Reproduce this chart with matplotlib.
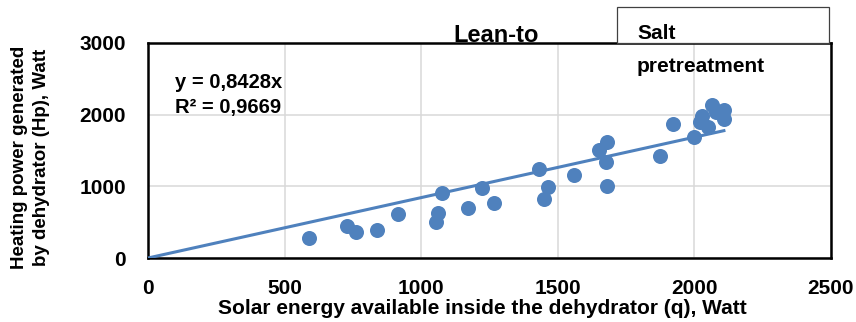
import numpy as np
import matplotlib.pyplot as plt
from matplotlib.patches import Rectangle

# solar energy inside dehydrator (q) vs heating power (Hp), Watt
solar_q = [589, 729, 761, 838, 914, 1054, 1063, 1075, 1172, 1221, 1266,
           1432, 1449, 1465, 1560, 1651, 1676, 1681, 1681, 1875, 1920,
           1997, 2020, 2027, 2051, 2066, 2080, 2108, 2108]
heat_hp = [275, 446, 360, 390, 614, 507, 623, 902, 693, 971, 763,
           1237, 823, 986, 1162, 1507, 1335, 1618, 1004, 1423, 1869,
           1692, 1901, 1981, 1832, 2134, 2040, 2065, 1935]
slope = 0.8428
r2_text = '0,9669'
x_ticks = [0, 500, 1000, 1500, 2000, 2500]
y_ticks = [0, 1000, 2000, 3000]

blue = '#4F81BD'
plt.rcParams['font.family'] = ['Liberation Sans', 'DejaVu Sans']
plt.rcParams['font.weight'] = 'bold'

fig = plt.figure(figsize=(8.56, 3.22), dpi=100)
ax = fig.add_axes([148/856, 1 - 258/322, 683/856, 215/322])

ax.scatter(solar_q, heat_hp, s=117, color=blue, zorder=3, linewidths=0)
xs = np.array([0, max(solar_q)])
ax.plot(xs, slope * xs, color=blue, lw=2.2, zorder=4)

ax.set_xlim(0, 2500)
ax.set_ylim(0, 3000)
ax.set_xticks(x_ticks)
ax.set_yticks(y_ticks)
ax.grid(True, color='#d9d9d9', lw=1.1)
ax.set_axisbelow(True)
ax.tick_params(axis='x', length=0, pad=15, labelsize=15)
ax.tick_params(axis='y', length=0, pad=16, labelsize=15)
for lab in ax.get_xticklabels() + ax.get_yticklabels():
    lab.set_fontweight('bold')
for sp in ax.spines.values():
    sp.set_color('black')
    sp.set_linewidth(1.8)

ax.set_xlabel('Solar energy available inside the dehydrator (q), Watt',
              fontsize=15, fontweight='bold', va='center')
ax.xaxis.set_label_coords(0.489, -0.233)
ax.set_ylabel('Heating power generated\nby dehydrator (Hp), Watt',
              fontsize=13.5, fontweight='bold', va='center', linespacing=1.45)
ax.yaxis.set_label_coords(-0.172, 0.47)

ax.text(0.509, 1.003, 'Lean-to', transform=ax.transAxes, ha='center',
        va='baseline', fontsize=17, fontweight='bold')
ax.text(0.0395, 0.791, 'y = 0,8428x', transform=ax.transAxes,
        va='baseline', fontsize=14.5, fontweight='bold')
ax.text(0.0395, 0.674, 'R² = ' + r2_text, transform=ax.transAxes,
        va='baseline', fontsize=14.5, fontweight='bold')

# text box above the plot
fig.patches.append(Rectangle((617/856, 1 - 43/322), 212/856, 36/322,
                             transform=fig.transFigure, facecolor='white',
                             edgecolor='#404040', lw=0.9, zorder=0))
fig.text(637/856, 1 - 39/322, 'Salt', fontsize=15, fontweight='bold',
         va='baseline', zorder=10)
fig.text(637/856, 1 - 72/322, 'pretreatment', fontsize=15, fontweight='bold',
         va='baseline', zorder=10)

fig.savefig('out.png', dpi=100)
